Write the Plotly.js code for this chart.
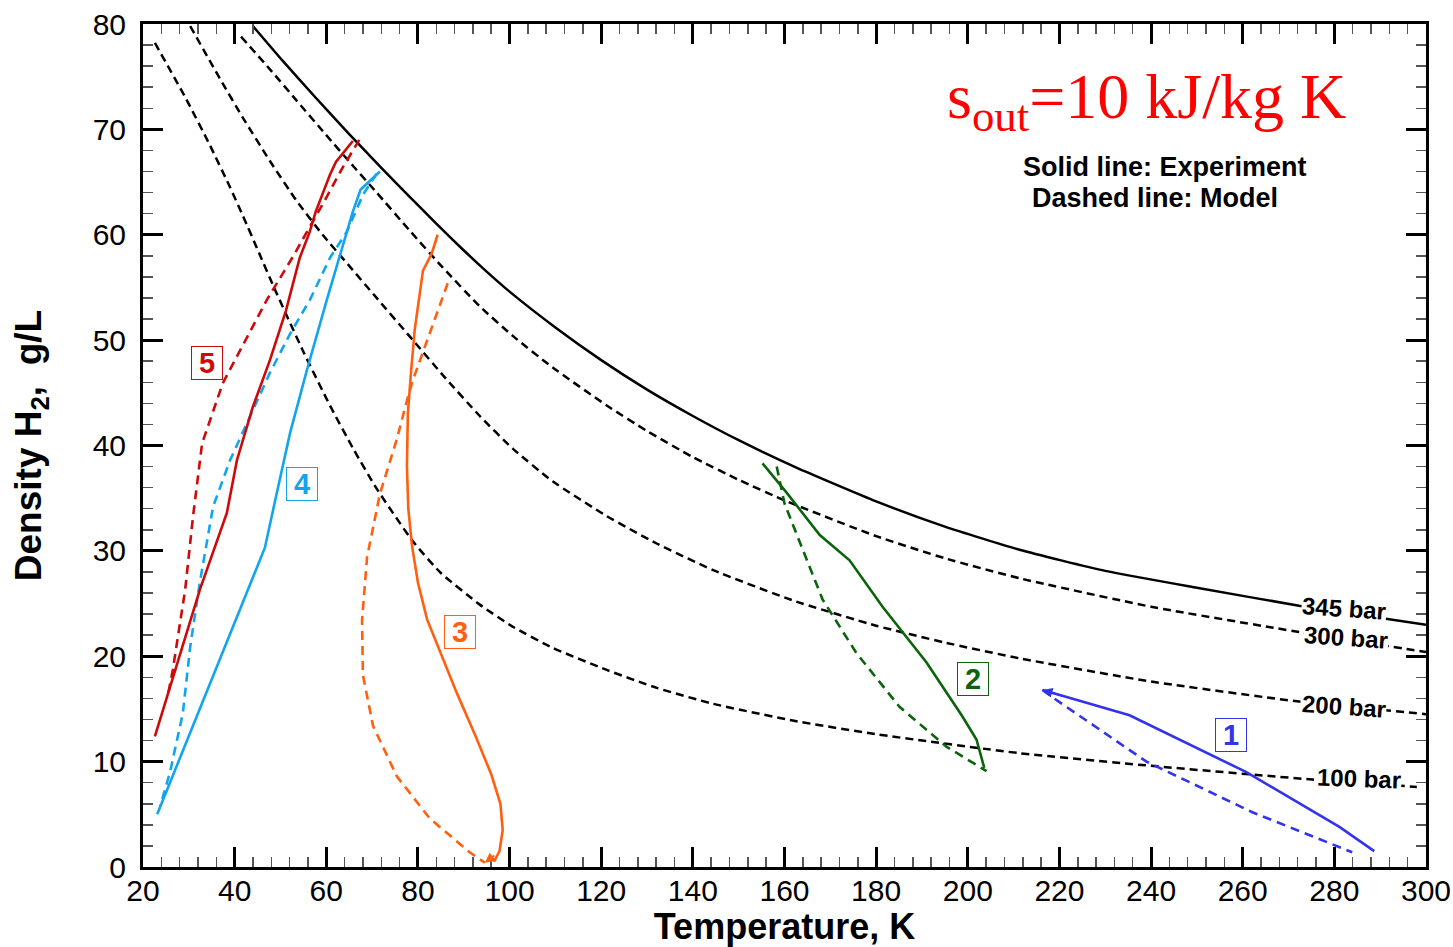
<!DOCTYPE html>
<html>
<head>
<meta charset="utf-8">
<script src="https://cdn.plot.ly/plotly-3.0.1.min.js"></script>
<style>html,body{margin:0;padding:0;background:#fff;}#chart{width:1453px;height:947px;}</style>
</head>
<body>
<div id="chart"></div>
<script>
// ---- Isobars (density of H2 vs temperature) ----
const iso345T = [44.0, 50.5, 57.7, 65.1, 71.7, 78.2, 83.9, 89.8, 95, 100, 110, 120, 130, 140, 150, 162.6, 180, 195, 211.3, 230, 250, 272.3, 300];
const iso345D = [79.8, 76.5, 73.0, 69.5, 66.5, 63.6, 61.1, 58.6, 56.5, 54.6, 51.2, 48.1, 45.3, 42.8, 40.5, 37.9, 34.7, 32.3, 30.1, 28.1, 26.5, 24.8, 23.0];
const iso300T = [41.4, 47.7, 53.4, 59.9, 65.1, 70.8, 78.2, 85.4, 93.5, 100.7, 109.4, 121.2, 129.9, 140, 150.2, 160.5, 180, 195, 211.3, 240, 272.3, 300];
const iso300D = [78.8, 75.7, 72.8, 69.5, 66.9, 64.1, 60.4, 56.9, 53.2, 50.4, 47.4, 43.8, 41.4, 38.9, 36.7, 34.7, 31.4, 29.3, 27.4, 24.7, 22.3, 20.4];
const iso200T = [30.3, 36.8, 41.8, 47.7, 53.4, 59.2, 65.1, 70.8, 78.9, 86, 93.5, 100.7, 109.4, 121.2, 132.1, 144.3, 161.8, 180, 195, 211.3, 240, 272.3, 300];
const iso200D = [79.8, 74.8, 71.1, 67.0, 63.3, 60.0, 57.0, 54.1, 50.0, 46.4, 42.8, 39.7, 36.6, 33.3, 30.7, 28.2, 25.3, 22.9, 21.3, 19.8, 17.6, 15.7, 14.5];
const iso100T = [22.6, 29.4, 34.6, 39.0, 41.8, 45.5, 49.0, 55, 60.8, 66, 71, 78.9, 85, 93.5, 100.7, 109.4, 121.2, 132.1, 144.3, 161.8, 180, 211.3, 240, 275.2, 298];
const iso100D = [78.2, 72.9, 68.5, 64.5, 61.8, 58.1, 54.6, 48.9, 43.8, 39.6, 35.9, 30.9, 27.9, 24.9, 22.8, 20.8, 18.7, 17.0, 15.5, 13.9, 12.6, 10.8, 9.6, 8.3, 7.6];
const isoLabels = ['345 bar', '300 bar', '200 bar', '100 bar'];

// ---- Case 1 (blue) ----
const c1ExpT = [216.3, 235.3, 260.8, 281.1, 288.7];
const c1ExpD = [16.8, 14.4, 9.0, 3.8, 1.5];
const c1ModT = [216.3, 218.5, 239.0, 262.1, 283.9];
const c1ModD = [16.8, 16.1, 10.0, 5.2, 1.4];
// ---- Case 2 (green) ----
const c2ExpT = [155.2, 160.5, 167.7, 174.2, 181.4, 191.0, 198.8, 201.9, 203.6];
const c2ExpD = [38.3, 35.5, 31.5, 29.1, 24.7, 19.4, 14.3, 12.1, 9.4];
const c2ModT = [158.3, 160.0, 164.0, 168.3, 175.7, 185.1, 195.4, 204.1];
const c2ModD = [38.0, 34.5, 30.1, 25.4, 20.3, 15.2, 11.4, 9.1];
// ---- Case 3 (orange) ----
const c3ExpT = [84.3, 83.0, 81.1, 80.4, 79.3, 78.5, 77.8, 77.6, 77.9, 78.7, 80.0, 82.0, 84.8, 88.5, 92.5, 96.0, 98.0, 98.5, 97.8, 96.6];
const c3ExpD = [60.0, 58.2, 56.6, 54.5, 51.0, 47.0, 43.0, 38.0, 34.0, 30.5, 27.0, 23.5, 20.5, 16.5, 12.5, 8.8, 6.0, 3.5, 1.5, 0.5];
const c3ModT = [86.5, 82.6, 78.9, 77.8, 75.4, 71.7, 68.9, 67.8, 68.0, 70.2, 75.4, 82.6, 91.3, 94.6];
const c3ModD = [55.4, 50.6, 46.2, 44.6, 40.6, 35.4, 29.4, 23.4, 18.2, 13.4, 8.6, 4.6, 1.4, 0.4];
// ---- Case 4 (light blue) ----
const c4ExpT = [71.7, 67.5, 65.8, 63.0, 60.1, 55.8, 52.1, 49.2, 46.6, 23.1];
const c4ExpD = [66.0, 64.3, 62.2, 58.1, 53.8, 47.2, 41.2, 35.5, 30.3, 5.0];
const c4ModT = [71.0, 68.0, 64.5, 60.8, 56.4, 52.1, 47.7, 42.7, 39.0, 35.3, 32.4, 30.3, 28.7, 25.9, 23.7];
const c4ModD = [65.8, 63.8, 60.3, 57.8, 53.8, 50.6, 46.9, 42.1, 38.6, 34.2, 27.0, 20.9, 14.6, 9.0, 5.7];
// ---- Case 5 (red) ----
const c5ExpT = [65.8, 62.1, 60.8, 57.7, 56.4, 54.2, 51.2, 47.7, 44.0, 40.5, 38.3, 32.4, 22.6];
const c5ExpD = [68.9, 66.9, 65.7, 62.2, 60.3, 57.8, 52.8, 48.1, 43.7, 38.6, 33.6, 26.3, 12.4];
const c5ModT = [67.2, 63.6, 60.1, 56.4, 52.7, 47.0, 41.2, 37.4, 32.9, 30.9, 29.2, 26.5, 25.3];
const c5ModD = [69.0, 66.4, 63.6, 60.7, 57.9, 53.8, 49.1, 45.9, 40.2, 33.2, 26.3, 18.7, 16.0];

const caseNames = ['1', '2', '3', '4', '5'];
const caseColors = ['#3333ee', '#0b640b', '#ff5f0f', '#12a5ee', '#cc0a0a'];
const caseLabelT = [257.5, 201.2, 89.1, 54.7, 34.0];
const caseLabelD = [12.5, 17.8, 22.3, 36.3, 47.8];

const traces = [];
function iso(T, D, dashed) {
  traces.push({x: T, y: D, mode: 'lines', hoverinfo: 'skip',
    line: {color: 'black', width: 2.5, dash: dashed ? '8px,5px' : 'solid', shape: 'spline', smoothing: 0.5}});
}
iso(iso345T, iso345D, false);
iso(iso300T, iso300D, true);
iso(iso200T, iso200D, true);
iso(iso100T, iso100D, true);

const cases = [
  [c1ExpT, c1ExpD, c1ModT, c1ModD],
  [c2ExpT, c2ExpD, c2ModT, c2ModD],
  [c3ExpT, c3ExpD, c3ModT, c3ModD],
  [c4ExpT, c4ExpD, c4ModT, c4ModD],
  [c5ExpT, c5ExpD, c5ModT, c5ModD]
];
cases.forEach((c, i) => {
  traces.push({x: c[2], y: c[3], mode: 'lines', line: {color: caseColors[i], width: 2.6, dash: '9px,6px'}});
  traces.push({x: c[0], y: c[1], mode: 'lines', line: {color: caseColors[i], width: 2.6}});
});

const fontSans = 'Liberation Sans, Arial, sans-serif';
const annotations = [];
const isoLabT = [282.2, 282.6, 282.2, 285.4];
const isoLabD = [24.5, 21.8, 15.2, 8.4];
const isoLabAng = [4, 4, 4, 2];
isoLabels.forEach((t, i) => {
  annotations.push({x: isoLabT[i], y: isoLabD[i], text: '<b>' + t + '</b>', showarrow: false,
    textangle: isoLabAng[i], bgcolor: 'white', borderpad: 0,
    font: {family: fontSans, size: 24, color: 'black'}});
});
caseNames.forEach((t, i) => {
  annotations.push({x: caseLabelT[i], y: caseLabelD[i], text: '<b>' + t + '</b>', showarrow: false,
    bgcolor: 'white', bordercolor: caseColors[i], borderwidth: 1, borderpad: 2, width: 26, height: 28,
    font: {family: fontSans, size: 29, color: caseColors[i]}});
});
annotations.push({x: 195.1, y: 72.7, xanchor: 'left', yanchor: 'middle', showarrow: false,
  text: 's<sub>out</sub>=10 kJ/kg K', font: {family: 'Liberation Serif, Times New Roman, serif', size: 64, color: '#ff0000'}});
annotations.push({x: 211.7, y: 66.4, xanchor: 'left', yanchor: 'middle', showarrow: false,
  text: '<b>Solid line: Experiment</b>', font: {family: fontSans, size: 27, color: 'black'}});
annotations.push({x: 213.5, y: 63.5, xanchor: 'left', yanchor: 'middle', showarrow: false,
  text: '<b>Dashed line: Model</b>', font: {family: fontSans, size: 27, color: 'black'}});
// small arrow heads
annotations.push({x: c1ExpT[0], y: c1ExpD[0], ax: 221, ay: 16.2, axref: 'x', ayref: 'y', text: '', showarrow: true,
  arrowhead: 2, arrowsize: 1, arrowwidth: 2, arrowcolor: caseColors[0]});
annotations.push({x: c3ModT[c3ModT.length - 1], y: c3ModD[c3ModD.length - 1], ax: 97.0, ay: 1.2, axref: 'x', ayref: 'y', text: '', showarrow: true,
  arrowhead: 2, arrowsize: 1, arrowwidth: 2, arrowcolor: caseColors[2]});

const axisCommon = {
  ticks: 'inside', ticklen: 20, tickwidth: 3, tickcolor: 'black',
  showline: true, linewidth: 3, linecolor: 'black', mirror: 'allticks',
  showgrid: false, zeroline: false,
  tickfont: {family: fontSans, size: 30, color: 'black'}
};
const layout = {
  width: 1453, height: 947,
  margin: {l: 143, r: 27, t: 24, b: 80},
  paper_bgcolor: 'white', plot_bgcolor: 'white',
  showlegend: false,
  xaxis: Object.assign({}, axisCommon, {
    range: [20, 300], tick0: 20, dtick: 20, ticklabelstandoff: -5,
    minor: {dtick: 4, ticks: 'inside', ticklen: 10, tickwidth: 1.5, tickcolor: '#555', showgrid: false},
    title: {text: '<b>Temperature, K</b>', font: {family: fontSans, size: 36, color: 'black'}, standoff: 2}
  }),
  yaxis: Object.assign({}, axisCommon, {
    range: [0, 80], tick0: 0, dtick: 10, ticklabelstandoff: 8,
    minor: {dtick: 2, ticks: 'inside', ticklen: 10, tickwidth: 1.5, tickcolor: '#555', showgrid: false},
    title: {text: '<b>Density H<sub>2</sub>,&nbsp; g/L</b>', font: {family: fontSans, size: 37, color: 'black'}, standoff: 40}
  }),
  annotations: annotations
};
Plotly.newPlot('chart', traces, layout, {displayModeBar: false, staticPlot: true});
</script>
</body>
</html>
